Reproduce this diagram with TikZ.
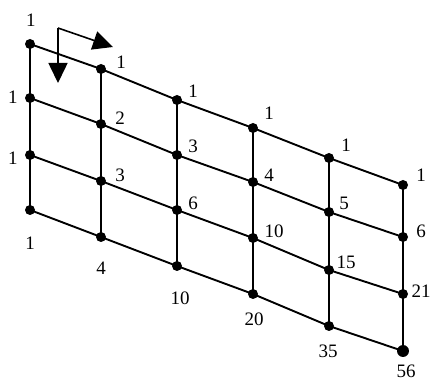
\documentclass[tikz,border=0pt]{standalone}
\usepackage{fontspec}
\setmainfont{Liberation Serif}
\usetikzlibrary{arrows.meta}
\begin{document}
\begin{tikzpicture}[x=1pt,y=-1pt,
  dot/.style={circle,fill=black,inner sep=0pt,minimum size=10pt},
  edge/.style={line width=1.9pt},
  lab/.style={font=\fontsize{19}{19}\selectfont,inner sep=0pt},
  arr/.style={line width=1.6pt,-{Triangle[length=20pt,width=19pt]}}]
\useasboundingbox (0,0) rectangle (432,382);
% dots: columns c0..c5, rows r0..r3
\node[dot] (a0) at (30,44) {};
\node[dot] (a1) at (30,98) {};
\node[dot] (a2) at (30,155) {};
\node[dot] (a3) at (30,210) {};
\node[dot] (b0) at (101,69) {};
\node[dot] (b1) at (101,124) {};
\node[dot] (b2) at (101,181) {};
\node[dot] (b3) at (101,237) {};
\node[dot] (c0) at (177,100) {};
\node[dot] (c1) at (177,155) {};
\node[dot] (c2) at (177,210) {};
\node[dot] (c3) at (177,266) {};
\node[dot] (d0) at (253,128) {};
\node[dot] (d1) at (253,182) {};
\node[dot] (d2) at (253,238) {};
\node[dot] (d3) at (253,294) {};
\node[dot] (e0) at (329,158) {};
\node[dot] (e1) at (329,212) {};
\node[dot] (e2) at (329,270) {};
\node[dot] (e3) at (329,326) {};
\node[dot] (f0) at (403,185) {};
\node[dot] (f1) at (403,237) {};
\node[dot] (f2) at (403,294) {};
\node[dot,minimum size=12pt] (f3) at (403,351) {};
% grid lines
\foreach \c in {a,b,c,d,e,f}{
  \draw[edge] (\c0.center) -- (\c1.center) -- (\c2.center) -- (\c3.center);
}
\foreach \r in {0,1,2,3}{
  \draw[edge] (a\r.center) -- (b\r.center) -- (c\r.center) -- (d\r.center) -- (e\r.center) -- (f\r.center);
}
% arrows
\coordinate (s) at (58,28);
\coordinate (ht) at (113,47);
\coordinate (vt) at (58,83);
\draw[arr] (s) -- (ht);
\draw[arr] (s) -- (vt);
% labels
\node[lab] (la0) at (31,20) {1};
\node[lab] (la1) at (13,97) {1};
\node[lab] (la2) at (13,158) {1};
\node[lab] (la3) at (30,243) {1};
\node[lab] (lb0) at (121,62) {1};
\node[lab] (lb1) at (120,118) {2};
\node[lab] (lb2) at (120,175) {3};
\node[lab] (lb3) at (101,268) {4};
\node[lab] (lc0) at (193,91) {1};
\node[lab] (lc1) at (193,146) {3};
\node[lab] (lc2) at (193,203) {6};
\node[lab] (lc3) at (180,298) {10};
\node[lab] (ld0) at (269,113) {1};
\node[lab] (ld1) at (269,175) {4};
\node[lab] (ld2) at (274,231) {10};
\node[lab] (ld3) at (254,319) {20};
\node[lab] (le0) at (346,145) {1};
\node[lab] (le1) at (344,203) {5};
\node[lab] (le2) at (346,262) {15};
\node[lab] (le3) at (328,351) {35};
\node[lab] (lf0) at (421,175) {1};
\node[lab] (lf1) at (421,231) {6};
\node[lab] (lf2) at (421,291) {21};
\node[lab] (lf3) at (406,371) {56};
\end{tikzpicture}
\end{document}
